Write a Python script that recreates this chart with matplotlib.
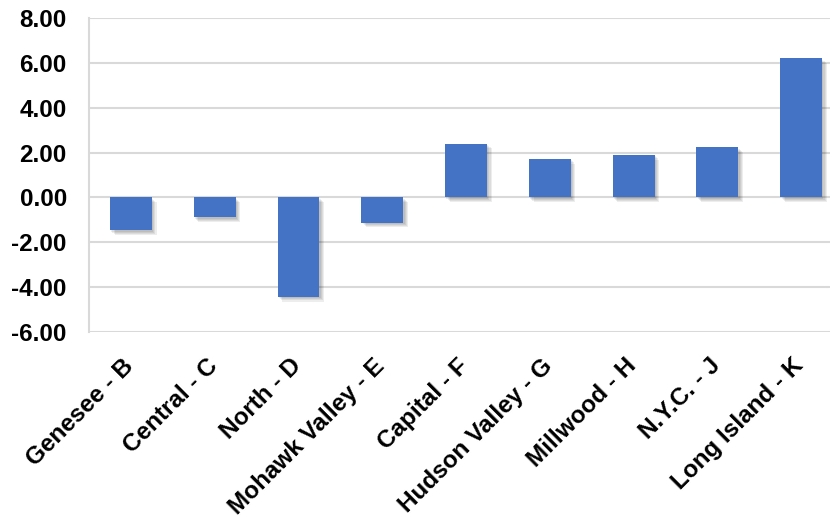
import numpy as np
import matplotlib
matplotlib.use('Agg')
import matplotlib.pyplot as plt
import matplotlib.patheffects as pe
import matplotlib.transforms as mtransforms

zones = ['Genesee - B', 'Central - C', 'North - D', 'Mohawk Valley - E', 'Capital - F',
         'Hudson Valley - G', 'Millwood - H', 'N.Y.C. - J', 'Long Island - K']
values = [-1.47, -0.88, -4.43, -1.12, 2.40, 1.72, 1.90, 2.24, 6.20]
yticks = [-6, -4, -2, 0, 2, 4, 6, 8]

plt.rcParams['font.family'] = ['Liberation Sans', 'DejaVu Sans']

fig = plt.figure(figsize=(8.3, 5.18), dpi=100)
# plot area runs a little past the right edge of the figure
ax = fig.add_axes([89 / 830, 1 - 332 / 518, 754 / 830, 314 / 518])

x = np.arange(len(zones))

# soft drop shadow built from a few stacked offset copies
shadow = [pe.SimplePatchShadow(offset=(o, -o), shadow_rgbFace='black', alpha=0.07)
          for o in (1.0, 1.8, 2.6, 3.4)]
bars = ax.bar(x, values, width=0.5, color='#4472C4', zorder=3,
              path_effects=shadow + [pe.Normal()])

ax.set_xlim(-0.5, len(zones) - 0.5)
ax.set_ylim(-6, 8)
ax.set_yticks(yticks)
ax.set_yticklabels(['%.2f' % v for v in yticks], fontsize=17.5, fontweight='bold')
ax.set_xticks(x)
ax.set_xticklabels(zones, rotation=45, ha='right', va='top', rotation_mode='anchor',
                   fontsize=17.5, fontweight='bold')

ax.tick_params(axis='y', length=0, pad=16)
ax.tick_params(axis='x', length=0, pad=16)

# nudge the slanted labels left so they end right under each bar
# (after tick_params, which resets the label transforms)
shift = mtransforms.ScaledTranslation(-9 / 100, 0, fig.dpi_scale_trans)
for lbl in ax.xaxis.get_majorticklabels():
    lbl.set_transform(lbl.get_transform() + shift)

ax.grid(axis='y', color='#d9d9d9', linewidth=1.5, zorder=0)
ax.set_axisbelow(True)
for side in ['top', 'right', 'bottom']:
    ax.spines[side].set_visible(False)
ax.spines['left'].set_color('#d9d9d9')
ax.spines['left'].set_linewidth(1.5)

fig.savefig('out.png', dpi=100)
